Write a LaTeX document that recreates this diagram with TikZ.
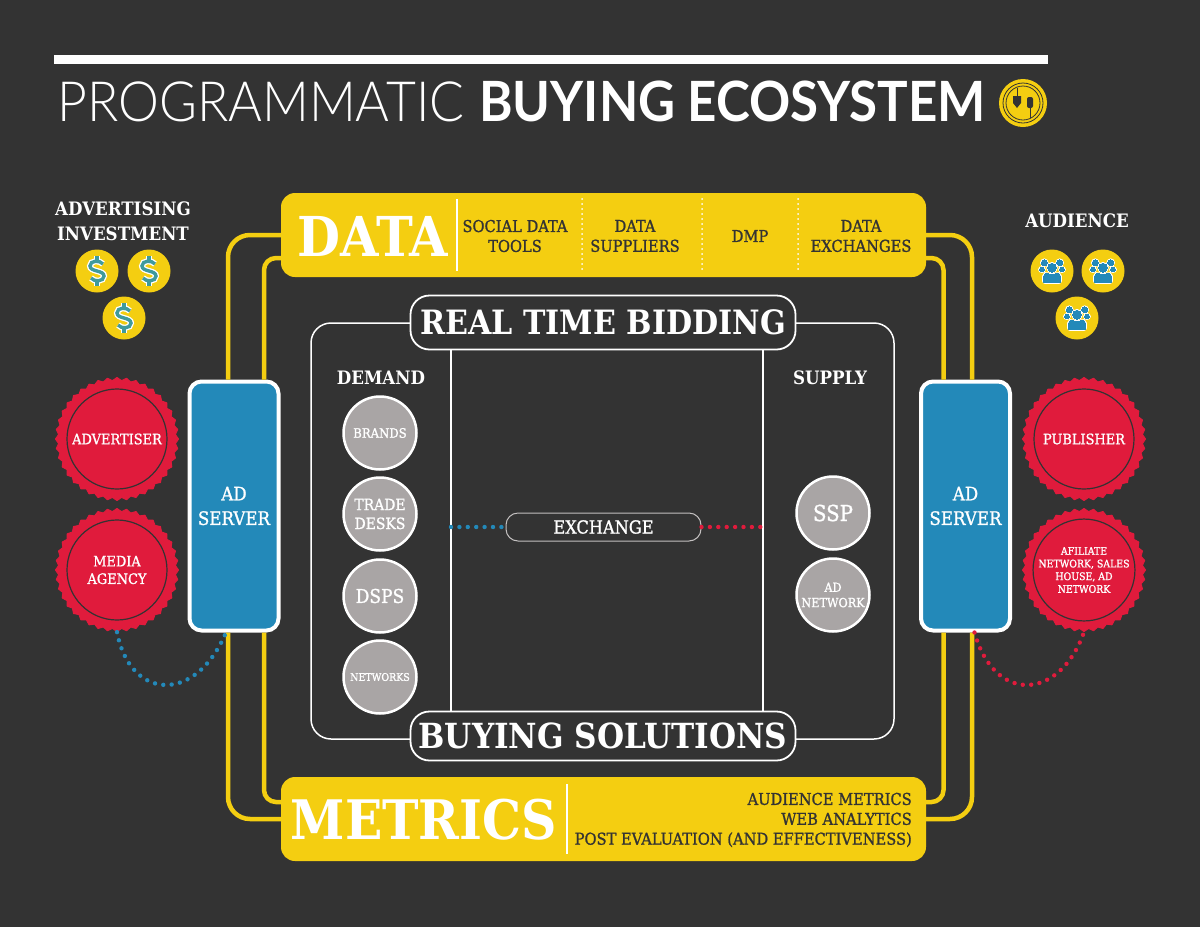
\documentclass[tikz,border=0pt]{standalone}
\usepackage{fontspec}
\setmainfont[UprightFeatures={FakeBold=1.2}]{DejaVu Serif Condensed}
\newfontfamily\titlelight[FakeStretch=0.93]{Lato Light}
\newfontfamily\titlebold[FakeStretch=0.92]{Lato Bold}
\usetikzlibrary{shapes.geometric}
\definecolor{bgdark}{HTML}{333333}
\definecolor{adyellow}{HTML}{F4CE11}
\definecolor{adblue}{HTML}{2389B9}
\definecolor{adred}{HTML}{E01B3C}
\definecolor{adgrey}{HTML}{A9A5A5}
\definecolor{adteal}{HTML}{3F9A9C}
\newcommand{\fs}[1]{\fontsize{#1}{\dimexpr #1pt*122/100\relax}\selectfont}
\tikzset{
 whitetxt/.style={text=white, align=center, font=\bfseries\fs{#1}, inner sep=0},
 band/.style={fill=adyellow, rounded corners=14, minimum width=645, minimum height=84, draw=none},
 bandtxt/.style={text=bgdark, align=center, font=\fs{16.3}, inner sep=0},
 server/.style={fill=adblue, draw=white, line width=4, rounded corners=12, minimum width=89, minimum height=249, text=white, align=center, font=\fs{18.5}},
 seal/.style={star, star points=40, star point ratio=1.05, fill=adred, draw=adred, line join=round, line width=1, minimum size=123, inner sep=0},
 sealring/.style={circle, draw=bgdark, line width=1.2, minimum size=100, inner sep=0, text=white, align=center},
 coin/.style={circle, fill=adyellow, minimum size=43, inner sep=0},
 demand/.style={circle, fill=adgrey, draw=white, line width=2.5, minimum size=73, inner sep=0, text=white, align=center},
 tag/.style={fill=bgdark, draw=white, line width=1.8, rounded corners=19, text=white, minimum width=385, inner sep=0},
 yline/.style={adyellow, line width=4.5},
 dots/.style={line width=4.4, line cap=round, dash pattern=on 0pt off 8.4pt},
 dollar/.pic={
  \foreach \c/\w in {white/6,adteal/3.4} {
   \draw[\c, line width=\w] (6,-7) .. controls (3,-11) and (-7,-11) .. (-7,-5) .. controls (-7,1) and (7,-1) .. (7,5) .. controls (7,11) and (-3,11) .. (-6,7);
   \draw[\c, line width=\w] (0,-15)--(0,-10) (0,10)--(0,15);
  }
 },
 crowd/.pic={
  \foreach \c/\w in {white/2.4,adblue/0} {
   \draw[\c, fill=adblue, line width=\w] (-7.7,-8.3) circle (3) (7.7,-8.3) circle (3) (0,-3.3) circle (4.5);
   \draw[\c, fill=adblue, line width=\w] (-10,-1.5) ellipse (2.6 and 2.2) (10,-1.5) ellipse (2.6 and 2.2);
   \draw[\c, fill=adblue, line width=\w, rounded corners=2] (-8.7,3.3) .. controls (-5,1.5) and (-3,3.3) .. (0,3.3) .. controls (3,3.3) and (5,1.5) .. (8.7,3.3) -- (8.7,11.7) -- (-8.7,11.7) -- cycle;
  }
 },
}
\begin{document}
\begin{tikzpicture}[x=1pt,y=-1pt]
\fill[bgdark] (0,0) rectangle (1200,927);
\useasboundingbox (0,0) rectangle (1200,927);
% title
\node[fill=white, minimum width=994, minimum height=9, inner sep=0] (titlebar) at (551,59.5) {};
\node[anchor=base west, inner sep=0, text=white, font=\titlelight\fs{55.5}] (titlea) at (57,121) {PROGRAMMATIC};
\node[anchor=base west, inner sep=0, text=white, font=\titlebold\fs{55.5}] (titleb) at (479,121) {BUYING ECOSYSTEM};
\node[circle, fill=adyellow, minimum size=48, inner sep=0] (logo) at (1023,103) {};
\begin{scope}[shift={(logo.center)}]
\draw[bgdark, line width=.8] (0,0) circle (20) (0,0) circle (17);
\fill[bgdark] (-10,-7) -- (-2,-7) -- (-2,0) -- (-6,5) -- (-10,0) -- cycle;
\draw[bgdark, line width=1] (-6,-15) -- (-6,-7);
\fill[bgdark, rounded corners=2] (4,-6) rectangle (10,5);
\draw[bgdark, line width=1] (7,5) -- (7,15);
\end{scope}
% bands
\node[band] (data) at (603.5,235) {};
\node[band] (metrics) at (603.5,819) {};
\node[whitetxt=55] (datatxt) at (373,236) {DATA};
\node[whitetxt=54.5] (metricstxt) at (424,820) {METRICS};
\draw[white, line width=2] (457,199) -- (457,271);
\draw[white, line width=2] (567,784) -- (567,854);
\foreach \x in {582,702,798}
 \draw[white, line width=2, line cap=round, dash pattern=on 0pt off 5pt] (\x,199) -- (\x,271);
\node[bandtxt] (social) at (515,236) {SOCIAL DATA\\TOOLS};
\node[bandtxt] (suppliers) at (635,236) {DATA\\SUPPLIERS};
\node[bandtxt] (dmp) at (750,236) {DMP};
\node[bandtxt] (exchanges) at (861,236) {DATA\\EXCHANGES};
\node[bandtxt, align=right, anchor=east] (metricslist) at (912,820) {AUDIENCE METRICS\\WEB ANALYTICS\\POST EVALUATION (AND EFFECTIVENESS)};
% ad servers
\node[server] (serverl) at (234,506) {AD\\[2pt]SERVER};
\node[server] (serverr) at (965.5,506) {AD\\[2pt]SERVER};
\draw[yline, rounded corners=22] (data.west) -| ([xshift=-6]serverl.north);
\draw[yline, rounded corners=12] ([yshift=-23]data.west) -| ([xshift=30]serverl.north);
\draw[yline, rounded corners=22] (metrics.west) -| ([xshift=-6]serverl.south);
\draw[yline, rounded corners=12] ([yshift=17]metrics.west) -| ([xshift=30]serverl.south);
\draw[yline, rounded corners=22] (data.east) -| ([xshift=6.5]serverr.north);
\draw[yline, rounded corners=12] ([yshift=-23]data.east) -| ([xshift=-22]serverr.north);
\draw[yline, rounded corners=22] (metrics.east) -| ([xshift=6.5]serverr.south);
\draw[yline, rounded corners=12] ([yshift=17]metrics.east) -| ([xshift=-22]serverr.south);
% seals
\foreach \n/\x/\y/\s/\t in {advertiser/117/439/14.4/ADVERTISER,media/117/570/14.4/{MEDIA\\AGENCY},publisher/1084/439/14.4/PUBLISHER,afiliate/1084/570/10.4/{AFILIATE\\NETWORK, SALES\\HOUSE, AD\\NETWORK}} {
 \node[seal] (\n) at (\x,\y) {};
 \node[sealring, font=\fs{\s}] (\n ring) at (\x,\y) {\t};
}
\draw[adblue, dots] (media.south) .. controls (130,700) and (195,705) .. ([xshift=-8]serverl.south);
\draw[adred, dots] ([xshift=9]serverr.south) .. controls (995,705) and (1060,700) .. (afiliate.south);
% side titles
\node[whitetxt=18.5] (investment) at (123,221) {ADVERTISING\\[2pt]INVESTMENT};
\node[whitetxt=18.5] (audience) at (1077,221) {AUDIENCE};
\foreach \n/\x/\y in {cointa/97/271,cointb/149/271,cointc/124/318} {
 \node[coin] (\n) at (\x,\y) {};
 \pic at (\n) {dollar};
}
\foreach \n/\x/\y in {coinua/1052/271,coinub/1103/271,coinuc/1077/318} {
 \node[coin] (\n) at (\x,\y) {};
 \pic at (\n) {crowd};
}
% centre frame
\node[draw=white, line width=1.5, rounded corners=20, minimum width=583, minimum height=416] (frame) at (602.5,531) {};
\node[tag, minimum height=54, font=\bfseries\fs{33.5}] (rtb) at (603,322.5) {REAL TIME BIDDING};
\node[tag, minimum height=49, font=\bfseries\fs{34.6}] (buying) at (603,736) {BUYING SOLUTIONS};
\draw[white, line width=1.5] (451,350) -- (451,711);
\draw[white, line width=1.5] (763,350) -- (763,711);
\node[whitetxt=18.5] (demandtxt) at (381,378) {DEMAND};
\node[whitetxt=18.5] (supplytxt) at (830,378) {SUPPLY};
\foreach \n/\y/\s/\t in {brands/433/13/BRANDS,trade/514/15.5/{TRADE\\DESKS},dsps/596/19/DSPS,networks/677/10.5/NETWORKS}
 \node[demand, font=\fs{\s}] (\n) at (380,\y) {\t};
\node[demand, font=\fs{22}] (ssp) at (833,513) {SSP};
\node[demand, font=\fs{12.5}] (adnetwork) at (833,595) {AD\\NETWORK};
\node[draw=adgrey!70!white, line width=1, rounded corners=12, minimum width=195, minimum height=28, text=white, font=\fs{18}, inner sep=0] (exchange) at (603.5,527) {EXCHANGE};
\coordinate (blueend) at (451,527);
\coordinate (redend) at (763,527);
\draw[adblue, dots] (blueend) -- (exchange.west);
\draw[adred, dots] (exchange.east) -- (redend);
\end{tikzpicture}
\end{document}
